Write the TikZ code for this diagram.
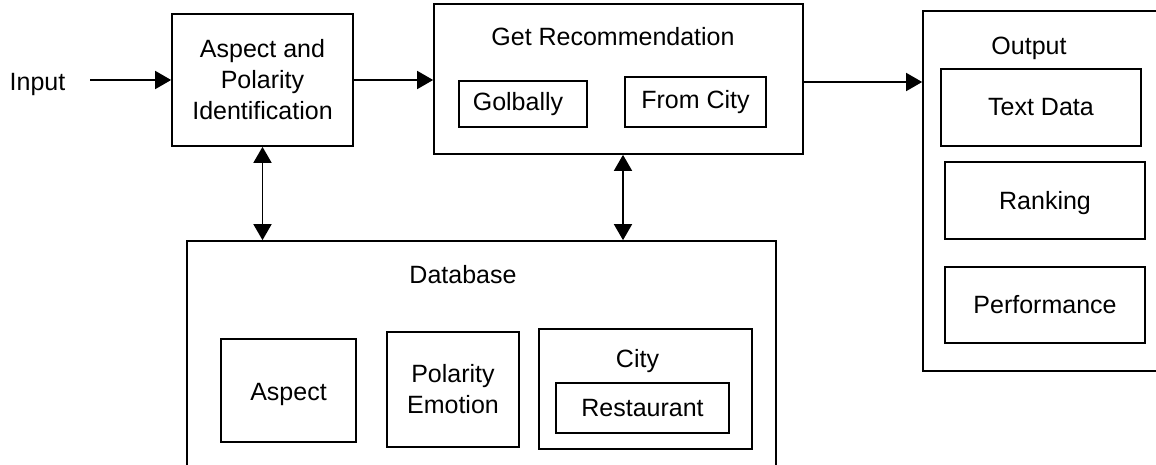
\documentclass[tikz,border=0pt]{standalone}
\usepackage{fontspec}
\setmainfont{Liberation Sans}
\usetikzlibrary{arrows.meta}
\tikzset{
  box/.style={draw=black, line width=1.7pt, inner sep=0pt, align=center, font=\fontsize{25}{31}\selectfont},
  lbl/.style={inner sep=0pt, anchor=base, align=center, font=\fontsize{25}{31}\selectfont},
  tip/.style={},
  arr/.style={line width=1.7pt, -{Triangle[length=16pt,width=18pt]}},
  darr/.style={line width=1.7pt, {Triangle[length=16pt,width=18pt]}-{Triangle[length=16pt,width=18pt]}}
}
\begin{document}
\begin{tikzpicture}[x=1pt,y=-1pt]
\useasboundingbox (0,0) rectangle (1156,465);
\fill[white] (0,0) rectangle (1156,465);
\begin{scope}
\clip (0,0) rectangle (1156,465);
% top row
\node[lbl] (input) at (37.5,91) {Input};
\node[box, minimum width=181pt, minimum height=132pt] (aspect) at (262.5,80) {\raisebox{-2pt}{Aspect and}\\\raisebox{-2pt}{Polarity}\\\raisebox{-2pt}{Identification}};
\node[box, minimum width=369pt, minimum height=150pt] (getrec) at (618.5,79) {};
\node[lbl] (getrectitle) at (613,46) {Get Recommendation};
\node[box, minimum width=128pt, minimum height=46pt] (golbally) at (523,104) {\hspace*{-10pt}Golbally};
\node[box, minimum width=141pt, minimum height=50pt] (fromcity) at (695.5,102) {From City};
% output
\node[box, minimum width=247pt, minimum height=360pt] (output) at (1046.5,191) {};
\node[lbl] (outputtitle) at (1029,54.3) {Output};
\node[box, minimum width=200pt, minimum height=77pt] (textdata) at (1041,107.5) {Text Data};
\node[box, minimum width=200pt, minimum height=77pt, text depth=0pt] (ranking) at (1045,200.5) {Ranking};
\node[box, minimum width=200pt, minimum height=76pt] (performance) at (1045,305) {Performance};
% database
\node[box, minimum width=589pt, minimum height=279pt] (database) at (481.5,380.5) {};
\node[lbl] (dbtitle) at (463,283) {Database};
\node[box, minimum width=135pt, minimum height=103pt, text depth=0pt] (aspectdb) at (288.5,390.5) {\raisebox{-2pt}{Aspect}};
\node[box, minimum width=132pt, minimum height=115pt] (polarity) at (453,389.5) {\raisebox{-2pt}{Polarity}\\\raisebox{-2pt}{Emotion}};
\node[box, minimum width=213pt, minimum height=120pt] (city) at (645.5,389) {};
\node[lbl] (citytitle) at (637.5,367) {City};
\node[box, minimum width=173pt, minimum height=50pt] (restaurant) at (642.5,408) {Restaurant};
% connectors
\coordinate (inputstart) at (90,80);
\draw[arr] (inputstart) -- (aspect.west);
\draw[arr] (aspect.east) -- (aspect.east -| getrec.west);
\path ([yshift=-3pt]getrec.east) coordinate (gre);
\draw[arr] (gre) -- (gre -| output.west);
\draw[darr] (aspect.south) -- (aspect.south |- database.north);
\path ([xshift=4.5pt]getrec.south) coordinate (grs);
\draw[darr] (grs) -- (grs |- database.north);
\end{scope}
\end{tikzpicture}
\end{document}
